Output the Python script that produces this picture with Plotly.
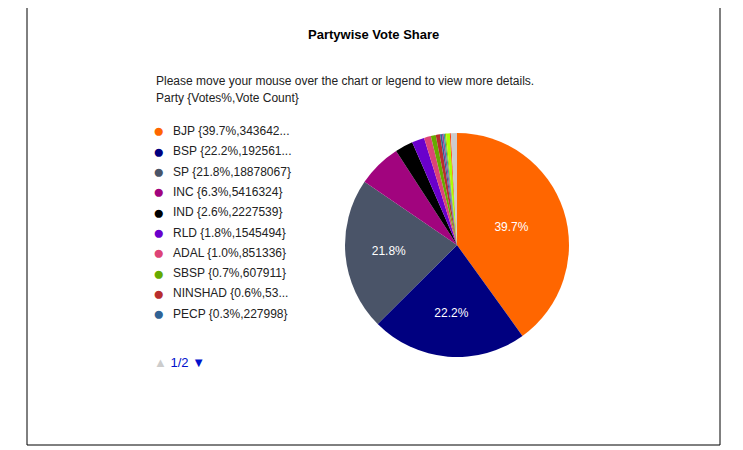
import plotly.graph_objects as go

parties = ["BJP","BSP","SP","INC","IND","RLD","ADAL","SBSP","NINSHAD","PECP","AIMIM","BMUP","JAP","OTH","RSBP","NOTA"]
votes = [34364211,19256147,18878067,5416324,2227539,1545494,851336,607911,534000,227998,205000,160000,140000,470000,120000,757000]
pcts = ["39.7","22.2","21.8","6.3","2.6","1.8","1.0","0.7","0.6","0.3","0.2","0.2","0.2","0.5","0.1","0.9"]
colors = ["#ff6600","#000080","#4a5468","#a1047e","#000000","#6a00cc","#dd4477","#66aa00","#b82e2e","#316395",
          "#994499","#22aa99","#aaaa11","#aaff00","#ff3300","#cccccc"]
legend_labels = ["BJP {39.7%,343642...","BSP {22.2%,192561...","SP {21.8%,18878067}","INC {6.3%,5416324}",
                 "IND {2.6%,2227539}","RLD {1.8%,1545494}","ADAL {1.0%,851336}","SBSP {0.7%,607911}",
                 "NINSHAD {0.6%,53...","PECP {0.3%,227998}"]

W, H = 743, 450
O = 8  # page body margin offset
def px(x): return (x - O) / W
def py(y): return 1 - (y - O) / H

cx, cy, r = 457, 245, 112
fig = go.Figure(go.Pie(
    labels=parties, values=votes, sort=False, direction="clockwise", rotation=0,
    marker=dict(colors=colors, line=dict(width=0)),
    texttemplate=[p + "%" if float(p) > 10 else "" for p in pcts],
    textinfo="text", textposition="inside", insidetextfont=dict(color="white", size=12, family="Arial"),
    showlegend=False, hoverinfo="label+percent+value",
    domain=dict(x=[px(cx - r), px(cx + r)], y=[py(cy + r), py(cy - r)]),
))

ann = [
    dict(x=px(373), y=py(25), text="<b>Partywise Vote Share</b>", showarrow=False, font=dict(size=13, color="#000")),
    dict(x=px(154), y=py(81), xanchor="left", yanchor="middle",
         text="Please move your mouse over the chart or legend to view more details.",
         showarrow=False, font=dict(size=12, color="#222")),
    dict(x=px(154), y=py(98), xanchor="left", yanchor="middle", text="Party {Votes%,Vote Count}",
         showarrow=False, font=dict(size=12, color="#222")),
]
for i, lab in enumerate(legend_labels):
    y = 131 + i * 20.3
    ann.append(dict(x=px(151), y=py(y), xanchor="left", yanchor="middle", text="●", showarrow=False,
                    font=dict(size=19, color=colors[i])))
    ann.append(dict(x=px(171), y=py(y), xanchor="left", yanchor="middle", text=lab, showarrow=False,
                    font=dict(size=12, color="#222")))
ann.append(dict(x=px(152), y=py(362), xanchor="left", yanchor="middle",
                text="<span style='color:#ccc'>▲</span> <span style='color:#0011cc'>1/2</span> <span style='color:#0011cc'>▼</span>",
                showarrow=False, font=dict(size=13)))

shapes = [
    dict(type="rect", xref="paper", yref="paper", x0=px(27), x1=px(720), y0=py(445), y1=py(2),
         line=dict(color="#000", width=1)),
    dict(type="line", xref="paper", yref="paper", x0=px(27), x1=px(720), y0=py(6), y1=py(6),
         line=dict(color="#000", width=1)),
]
fig.update_layout(width=W, height=H, margin=dict(l=0, r=0, t=0, b=0), paper_bgcolor="white",
                  font=dict(family="Arial"), annotations=ann, shapes=shapes)
fig.write_html("out.html")
